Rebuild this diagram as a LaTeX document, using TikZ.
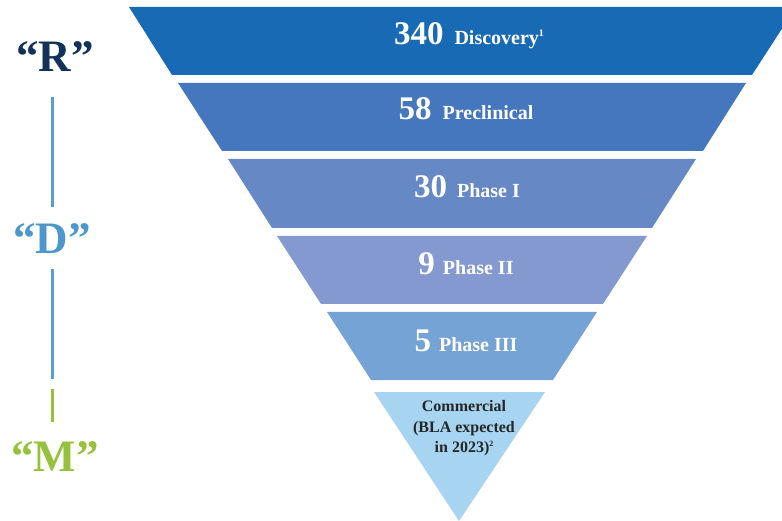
\documentclass[tikz,border=0pt]{standalone}
\usepackage{fontspec}
\setmainfont{Liberation Serif}
\definecolor{bandA}{HTML}{186AB4}
\definecolor{bandB}{HTML}{4477BD}
\definecolor{bandC}{HTML}{6689C5}
\definecolor{bandD}{HTML}{8399D0}
\definecolor{bandE}{HTML}{76A3D6}
\definecolor{bandF}{HTML}{A6D4F1}
\definecolor{rcol}{HTML}{13325A}
\definecolor{dcol}{HTML}{4E97CC}
\definecolor{mcol}{HTML}{95C13D}
\definecolor{linecol}{HTML}{5B9FD2}
\definecolor{commtext}{HTML}{262626}
\tikzset{
  bandtext/.style={anchor=base, text=white, font=\bfseries, inner sep=0pt},
  letter/.style={anchor=base, font=\fontsize{45}{45}\selectfont\bfseries, inner sep=0pt},
  rdmline/.style={line width=3pt},
}
\newcommand{\bignum}[1]{{\fontsize{33}{33}\selectfont #1}}
\newcommand{\smlab}[1]{{\fontsize{20}{20}\selectfont #1}}
\begin{document}
\begin{tikzpicture}[x=1pt,y=-1pt]
\useasboundingbox (0,0) rectangle (782,521);
% funnel bands
\fill[bandA] (129,7) -- (796,7) -- (752,75) -- (172,75) -- cycle;
\fill[bandB] (178,83) -- (746,83) -- (703,151) -- (222,151) -- cycle;
\fill[bandC] (228,159) -- (696,159) -- (652,228) -- (272,228) -- cycle;
\fill[bandD] (277,236) -- (647,236) -- (603,304) -- (321,304) -- cycle;
\fill[bandE] (327,312) -- (597,312) -- (553,380) -- (371,380) -- cycle;
\fill[bandF] (374,392) -- (545,392) -- (459,521) -- cycle;
% band texts
\node[bandtext] (t1) at (469,45) {\bignum{340}\hspace{11pt}\smlab{Discovery}\raisebox{8pt}{\fontsize{10}{10}\selectfont 1}};
\node[bandtext] (t2) at (466,120) {\bignum{58}\hspace{11pt}\smlab{Preclinical}};
\node[bandtext] (t3) at (467,198) {\bignum{30}\hspace{10pt}\smlab{Phase I}};
\node[bandtext] (t4) at (466,275) {\bignum{9}\hspace{8pt}\smlab{Phase II}};
\node[bandtext] (t5) at (466,352) {\bignum{5}\hspace{8pt}\smlab{Phase III}};
\node[anchor=north, text=commtext, font=\fontsize{16}{20.5}\selectfont\bfseries, align=center, inner sep=0pt] (t6) at (464,400.5)
  {Commercial\\(BLA expected\\in 2023)\raisebox{6pt}{\fontsize{8}{8}\selectfont 2}};
% R D M labels
\node[letter, text=rcol] (r) at (55,72) {“R”};
\node[letter, text=dcol] (d) at (52,254) {“D”};
\node[letter, text=mcol] (m) at (55,471) {“M”};
\coordinate (l1a) at (52,97);
\coordinate (l1b) at (52,207);
\coordinate (l2a) at (52,269);
\coordinate (l2b) at (52,379);
\coordinate (l3a) at (52,389);
\coordinate (l3b) at (52,422);
\draw[rdmline, linecol] (l1a) -- (l1b);
\draw[rdmline, linecol] (l2a) -- (l2b);
\draw[rdmline, mcol] (l3a) -- (l3b);
\end{tikzpicture}
\end{document}
